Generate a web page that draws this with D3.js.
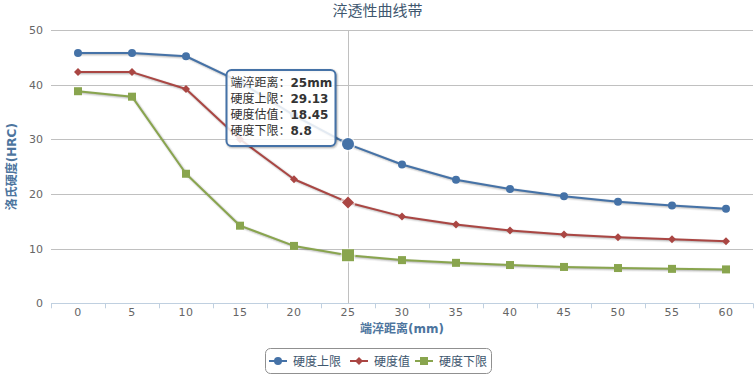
<!DOCTYPE html>
<html>
<head>
  <script src="https://d3js.org/d3.v7.min.js"></script>
  <style>
    body { margin: 0; background: white; }
    svg { display: block; font-family: "DejaVu Sans", "Noto Sans CJK SC", sans-serif; }
  </style>
</head>
<body>
  <svg width="755" height="376"></svg>
  <script>
  // data
  const distances = [0, 5, 10, 15, 20, 25, 30, 35, 40, 45, 50, 55, 60];
  const upper = [45.8, 45.8, 45.2, 40.5, 34.4, 29.13, 25.4, 22.6, 20.9, 19.6, 18.6, 17.9, 17.3];
  const estimate = [42.3, 42.3, 39.2, 30.0, 22.7, 18.45, 15.9, 14.4, 13.3, 12.6, 12.1, 11.7, 11.35];
  const lower = [38.8, 37.8, 23.7, 14.2, 10.5, 8.8, 7.9, 7.4, 7.0, 6.65, 6.45, 6.3, 6.2];
  const yTicks = [0, 10, 20, 30, 40, 50];
  const hoverIndex = 5;

  const series = [
    { name: "硬度上限", tip: "硬度上限", values: upper, color: "#4572A7", symbol: "circle" },
    { name: "硬度值", tip: "硬度估值", values: estimate, color: "#AA4643", symbol: "diamond" },
    { name: "硬度下限", tip: "硬度下限", values: lower, color: "#89A54E", symbol: "square" }
  ];

  const svg = d3.select("svg");
  const plotL = 51, plotR = 753, plotT = 30, plotB = 303.3;

  const x = d3.scaleBand().domain(distances).range([plotL, plotR]);
  const y = d3.scaleLinear().domain([0, 50]).range([plotB, plotT]);
  const cx = d => x(d) + x.bandwidth() / 2;

  // title
  svg.append("text")
    .attr("x", 377.5).attr("y", 16)
    .attr("text-anchor", "middle")
    .attr("font-size", 15).attr("fill", "#3E576F")
    .text("淬透性曲线带");

  // grid lines
  svg.append("g")
    .selectAll("line")
    .data(yTicks)
    .enter().append("line")
    .attr("x1", plotL).attr("x2", plotR)
    .attr("y1", d => Math.round(y(d)) + 0.5).attr("y2", d => Math.round(y(d)) + 0.5)
    .attr("stroke", d => d === 0 ? "#C0D0E0" : "#C0C0C0");

  // y labels
  svg.append("g")
    .selectAll("text")
    .data(yTicks)
    .enter().append("text")
    .attr("x", 43).attr("y", d => y(d) + 4)
    .attr("text-anchor", "end")
    .attr("font-size", 11).attr("fill", "#666")
    .text(d => d);

  // x axis ticks between categories
  const tickPos = distances.map(d => x(d)).concat([plotR]);
  svg.append("g")
    .selectAll("line")
    .data(tickPos)
    .enter().append("line")
    .attr("x1", d => Math.round(d) + 0.5).attr("x2", d => Math.round(d) + 0.5)
    .attr("y1", plotB).attr("y2", plotB + 5)
    .attr("stroke", "#C0D0E0");

  svg.append("g")
    .selectAll("text")
    .data(distances)
    .enter().append("text")
    .attr("x", d => cx(d)).attr("y", 316)
    .attr("text-anchor", "middle")
    .attr("font-size", 11).attr("fill", "#666")
    .attr("letter-spacing", 0.5)
    .text(d => d);

  // axis titles
  svg.append("text")
    .attr("x", (plotL + plotR) / 2).attr("y", 333)
    .attr("text-anchor", "middle")
    .attr("font-size", 12).attr("font-weight", "bold").attr("fill", "#4d759e")
    .text("端淬距离(mm)");

  svg.append("text")
    .attr("transform", `translate(16,${(plotT + plotB) / 2}) rotate(-90)`)
    .attr("text-anchor", "middle")
    .attr("font-size", 12).attr("font-weight", "bold").attr("fill", "#4d759e")
    .text("洛氏硬度(HRC)");

  // crosshair
  svg.append("line")
    .attr("x1", Math.round(cx(distances[hoverIndex])) + 0.5)
    .attr("x2", Math.round(cx(distances[hoverIndex])) + 0.5)
    .attr("y1", plotT).attr("y2", plotB)
    .attr("stroke", "#C0C0C0");

  const line = d3.line()
    .x((v, i) => cx(distances[i]))
    .y(v => y(v));

  function marker(g, s, px, py, r) {
    if (s.symbol === "circle") {
      g.append("circle").attr("cx", px).attr("cy", py).attr("r", r).attr("fill", s.color);
    } else if (s.symbol === "diamond") {
      g.append("path")
        .attr("d", `M${px},${py - r}L${px + r},${py}L${px},${py + r}L${px - r},${py}Z`)
        .attr("fill", s.color);
    } else {
      g.append("rect").attr("x", px - r).attr("y", py - r)
        .attr("width", 2 * r).attr("height", 2 * r).attr("fill", s.color);
    }
  }

  series.forEach(s => {
    const g = svg.append("g");
    // shadow like highcharts
    [[5, 0.05], [3, 0.1], [1, 0.15]].forEach(([w, o]) => {
      g.append("path")
        .attr("d", line(s.values))
        .attr("transform", "translate(1,1)")
        .attr("fill", "none")
        .attr("stroke", "#000").attr("stroke-opacity", o)
        .attr("stroke-width", w).attr("stroke-linejoin", "round");
    });
    g.append("path")
      .attr("d", line(s.values))
      .attr("fill", "none")
      .attr("stroke", s.color)
      .attr("stroke-width", 2).attr("stroke-linejoin", "round");
    s.values.forEach((v, i) => {
      const hov = i === hoverIndex;
      const r = hov ? 6 : 4;
      if (hov) {
        g.append("circle").attr("cx", cx(distances[i])).attr("cy", y(v)).attr("r", r + 1.5)
          .attr("fill", "#fff").attr("opacity", 0.6);
      }
      marker(g, s, cx(distances[i]), y(v), r);
    });
  });

  // tooltip
  const hx = cx(distances[hoverIndex]);
  const tipW = 109, tipH = 76;
  const tipX = hx - 12.5 - tipW, tipY = y(upper[hoverIndex]) + 2 - tipH;
  const tip = svg.append("g").attr("transform", `translate(${tipX},${tipY})`);
  [[5, 0.05], [3, 0.1], [1, 0.15]].forEach(([w, o]) => {
    tip.append("rect")
      .attr("x", 1).attr("y", 1).attr("width", tipW).attr("height", tipH).attr("rx", 5)
      .attr("fill", "none").attr("stroke", "#000").attr("stroke-opacity", o).attr("stroke-width", w);
  });
  tip.append("rect")
    .attr("width", tipW).attr("height", tipH).attr("rx", 5)
    .attr("fill", "rgba(255,255,255,0.85)")
    .attr("stroke", "#4572A7").attr("stroke-width", 2);

  const tipRows = [["端淬距离", distances[hoverIndex] + "mm"]]
    .concat(series.map(s => [s.tip, String(s.values[hoverIndex])]));
  tipRows.forEach((r, i) => {
    const t = tip.append("text")
      .attr("x", 4).attr("y", 17 + i * 16)
      .attr("font-size", 12).attr("fill", "#333");
    t.append("tspan").text(r[0] + "：");
    t.append("tspan").attr("font-weight", "bold").text(r[1]);
  });

  // legend
  const legend = svg.append("g");
  legend.append("rect")
    .attr("x", 265.5).attr("y", 348.5).attr("width", 226).attr("height", 25).attr("rx", 5)
    .attr("fill", "white").attr("stroke", "#909090");
  const legendX = [269, 350, 415];
  series.forEach((s, i) => {
    const lx = legendX[i];
    legend.append("line")
      .attr("x1", lx).attr("x2", lx + 18).attr("y1", 361).attr("y2", 361)
      .attr("stroke", s.color).attr("stroke-width", 2);
    marker(legend, s, lx + 9, 361, 4);
    legend.append("text")
      .attr("x", lx + 24).attr("y", 365.5)
      .attr("font-size", 12).attr("fill", "#3E576F")
      .text(s.name);
  });
  </script>
</body>
</html>
